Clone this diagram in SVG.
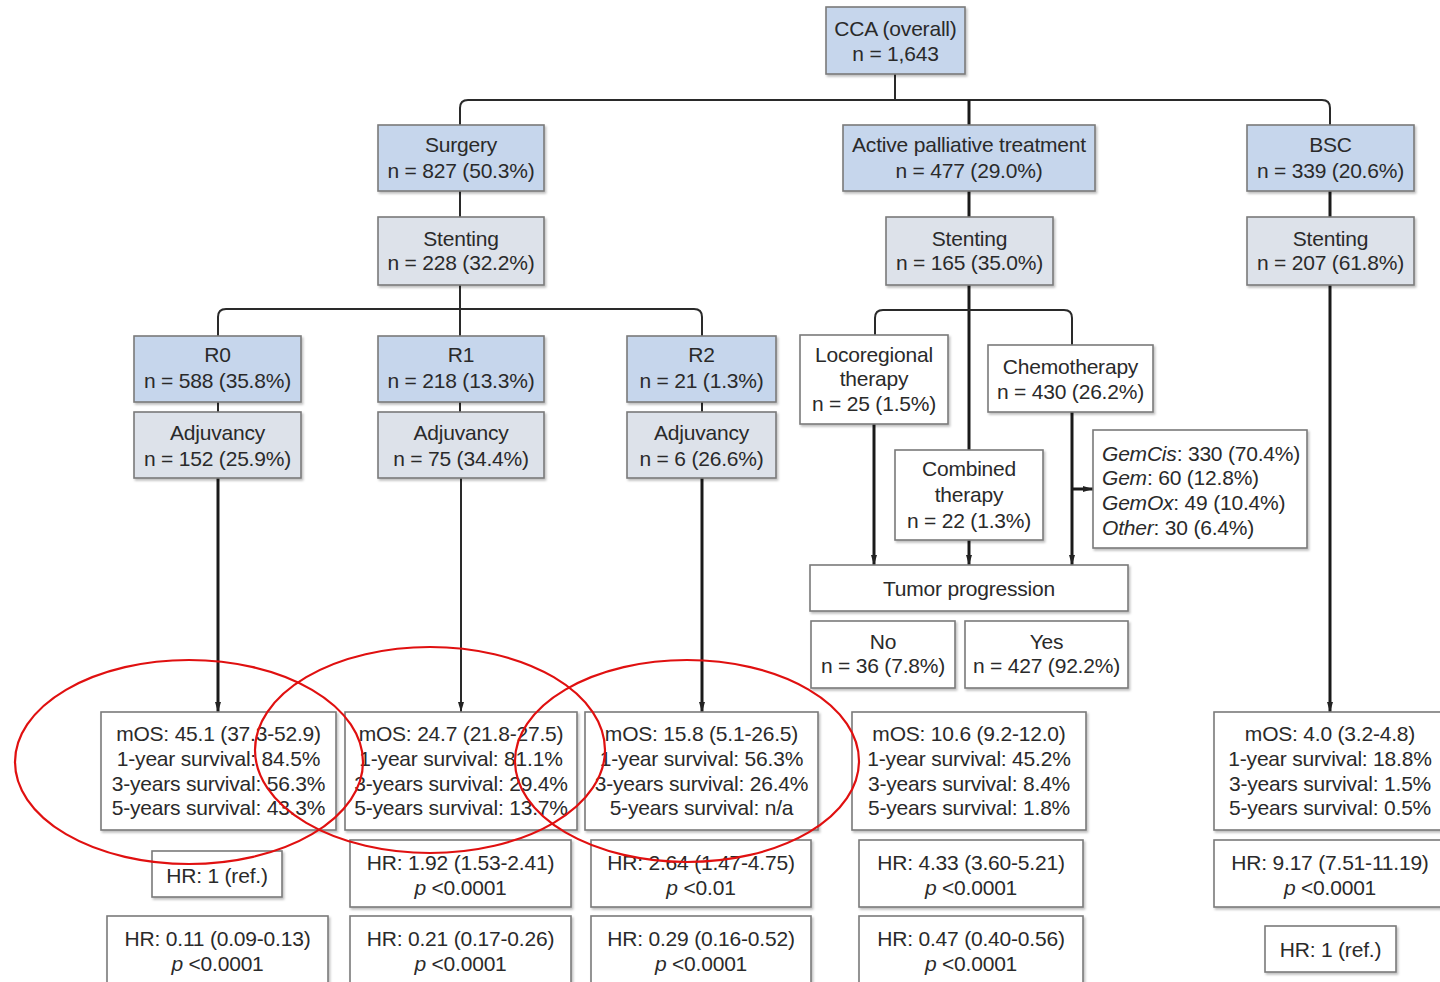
<svg xmlns="http://www.w3.org/2000/svg" width="1440" height="982" viewBox="0 0 1440 982">
<defs>
<marker id="arr" markerUnits="userSpaceOnUse" markerWidth="10" markerHeight="10" viewBox="0 0 10 10" refX="10" refY="5" orient="auto">
<path d="M0,2 L10,5 L0,8 Z" fill="#222"/>
</marker>
<filter id="sh" x="-5%" y="-5%" width="115%" height="125%">
<feDropShadow dx="1.5" dy="2" stdDeviation="1" flood-color="#000" flood-opacity="0.25"/>
</filter>
</defs>
<style>
rect{stroke:#7a7a7a;stroke-width:1.6;filter:url(#sh)}
.b{fill:#c6d6ec}
.g{fill:#dde2ea}
.w{fill:#fff}
text{font-family:"Liberation Sans",Arial,sans-serif;font-size:21px;letter-spacing:-0.2px;fill:#2a2a2a;text-anchor:middle}
.l{text-anchor:start}
.i{font-style:italic}
.c{fill:none;stroke:#2a2a2a;stroke-width:2}
.t{fill:none;stroke:#1a1a1a;stroke-width:3}
.red{fill:none;stroke:#e01010;stroke-width:2.2}
</style>
<rect x="0" y="0" width="1440" height="982" fill="#fff" style="stroke:none;filter:none"/>

<g id="connectors">
<path class="c" d="M895,74 V100"/>
<path class="c" d="M460,125 V108 Q460,100 468,100 H1322 Q1330,100 1330,108 V125"/>
<path class="t" d="M969,100 V125"/>
<path class="c" d="M460,191 V217"/>
<path class="t" d="M969,191 V217"/>
<path class="t" d="M1330,191 V217"/>
<path class="c" d="M460,285 V336"/>
<path class="c" d="M218,336 V317 Q218,309 226,309 H694 Q702,309 702,317 V336"/>
<path class="c" d="M218,402 V412"/>
<path class="c" d="M460,402 V412"/>
<path class="c" d="M702,402 V412"/>
<path class="t" d="M218,478 V712" marker-end="url(#arr)"/>
<path class="c" d="M461,478 V712" marker-end="url(#arr)"/>
<path class="t" d="M702,478 V712" marker-end="url(#arr)"/>
<path class="t" d="M969,285 V450"/>
<path class="c" d="M875,335 V318 Q875,310 883,310 H1064 Q1072,310 1072,318 V345"/>
<path class="t" d="M874,424 V565" marker-end="url(#arr)"/>
<path class="t" d="M969,540 V565" marker-end="url(#arr)"/>
<path class="t" d="M1072,412 V565" marker-end="url(#arr)"/>
<path class="t" d="M1072,489 H1093" marker-end="url(#arr)"/>
<path class="t" d="M1330,285 V712" marker-end="url(#arr)"/>
</g>

<g id="cca"><rect class="b" x="826" y="7" width="139" height="67"/><text x="895.5" y="36">CCA (overall)</text><text x="895.5" y="61">n = 1,643</text></g>

<g id="surgery"><rect class="b" x="378" y="125" width="166" height="66"/><text x="461" y="152">Surgery</text><text x="461" y="178">n = 827 (50.3%)</text></g>
<g id="apt"><rect class="b" x="843" y="125" width="252" height="66"/><text x="969" y="152">Active palliative treatment</text><text x="969" y="178">n = 477 (29.0%)</text></g>
<g id="bsc"><rect class="b" x="1247" y="125" width="167" height="66"/><text x="1330.5" y="152">BSC</text><text x="1330.5" y="178">n = 339 (20.6%)</text></g>

<g id="stent-surgery"><rect class="g" x="378" y="217" width="166" height="68"/><text x="461" y="246">Stenting</text><text x="461" y="270">n = 228 (32.2%)</text></g>
<g id="stent-apt"><rect class="g" x="886" y="217" width="167" height="68"/><text x="969.5" y="246">Stenting</text><text x="969.5" y="270">n = 165 (35.0%)</text></g>
<g id="stent-bsc"><rect class="g" x="1247" y="217" width="167" height="68"/><text x="1330.5" y="246">Stenting</text><text x="1330.5" y="270">n = 207 (61.8%)</text></g>

<g id="r0"><rect class="b" x="134" y="336" width="167" height="66"/><text x="217.5" y="362">R0</text><text x="217.5" y="388">n = 588 (35.8%)</text></g>
<g id="r1"><rect class="b" x="378" y="336" width="166" height="66"/><text x="461" y="362">R1</text><text x="461" y="388">n = 218 (13.3%)</text></g>
<g id="r2"><rect class="b" x="627" y="336" width="149" height="66"/><text x="701.5" y="362">R2</text><text x="701.5" y="388">n = 21 (1.3%)</text></g>

<g id="adj-r0"><rect class="g" x="134" y="412" width="167" height="66"/><text x="217.5" y="440">Adjuvancy</text><text x="217.5" y="466">n = 152 (25.9%)</text></g>
<g id="adj-r1"><rect class="g" x="378" y="412" width="166" height="66"/><text x="461" y="440">Adjuvancy</text><text x="461" y="466">n = 75 (34.4%)</text></g>
<g id="adj-r2"><rect class="g" x="627" y="412" width="149" height="66"/><text x="701.5" y="440">Adjuvancy</text><text x="701.5" y="466">n = 6 (26.6%)</text></g>

<g id="loco"><rect class="w" x="800" y="335" width="148" height="89"/><text x="874" y="362">Locoregional</text><text x="874" y="386">therapy</text><text x="874" y="411">n = 25 (1.5%)</text></g>
<g id="chemo"><rect class="w" x="988" y="345" width="165" height="67"/><text x="1070.5" y="374">Chemotherapy</text><text x="1070.5" y="399">n = 430 (26.2%)</text></g>
<g id="combined"><rect class="w" x="895" y="450" width="148" height="90"/><text x="969" y="476">Combined</text><text x="969" y="502">therapy</text><text x="969" y="528">n = 22 (1.3%)</text></g>
<g id="regimens"><rect class="w" x="1093" y="430" width="214" height="118"/>
<text class="l" x="1102" y="461"><tspan class="i">GemCis</tspan>: 330 (70.4%)</text>
<text class="l" x="1102" y="485"><tspan class="i">Gem</tspan>: 60 (12.8%)</text>
<text class="l" x="1102" y="510"><tspan class="i">GemOx</tspan>: 49 (10.4%)</text>
<text class="l" x="1102" y="535"><tspan class="i">Other</tspan>: 30 (6.4%)</text></g>

<g id="progression"><rect class="w" x="810" y="565" width="318" height="46"/><text x="969" y="596">Tumor progression</text></g>
<g id="prog-no"><rect class="w" x="811" y="621" width="144" height="67"/><text x="883" y="649">No</text><text x="883" y="673">n = 36 (7.8%)</text></g>
<g id="prog-yes"><rect class="w" x="965" y="621" width="163" height="67"/><text x="1046.5" y="649">Yes</text><text x="1046.5" y="673">n = 427 (92.2%)</text></g>

<g id="os-r0"><rect class="w" x="101" y="712" width="235" height="118"/><text x="218.5" y="741">mOS: 45.1 (37.3-52.9)</text><text x="218.5" y="766">1-year survival: 84.5%</text><text x="218.5" y="791">3-years survival: 56.3%</text><text x="218.5" y="815">5-years survival: 43.3%</text></g>
<g id="os-r1"><rect class="w" x="345" y="712" width="232" height="118"/><text x="461" y="741">mOS: 24.7 (21.8-27.5)</text><text x="461" y="766">1-year survival: 81.1%</text><text x="461" y="791">3-years survival: 29.4%</text><text x="461" y="815">5-years survival: 13.7%</text></g>
<g id="os-r2"><rect class="w" x="585" y="712" width="233" height="118"/><text x="701.5" y="741">mOS: 15.8 (5.1-26.5)</text><text x="701.5" y="766">1-year survival: 56.3%</text><text x="701.5" y="791">3-years survival: 26.4%</text><text x="701.5" y="815">5-years survival: n/a</text></g>
<g id="os-apt"><rect class="w" x="852" y="712" width="234" height="118"/><text x="969" y="741">mOS: 10.6 (9.2-12.0)</text><text x="969" y="766">1-year survival: 45.2%</text><text x="969" y="791">3-years survival: 8.4%</text><text x="969" y="815">5-years survival: 1.8%</text></g>
<g id="os-bsc"><rect class="w" x="1214" y="712" width="232" height="118"/><text x="1330" y="741">mOS: 4.0 (3.2-4.8)</text><text x="1330" y="766">1-year survival: 18.8%</text><text x="1330" y="791">3-years survival: 1.5%</text><text x="1330" y="815">5-years survival: 0.5%</text></g>

<g id="hr1-r0"><rect class="w" x="152" y="851" width="130" height="46"/><text x="217" y="883">HR: 1 (ref.)</text></g>
<g id="hr1-r1"><rect class="w" x="350" y="840" width="221" height="67"/><text x="460.5" y="870">HR: 1.92 (1.53-2.41)</text><text x="460.5" y="895"><tspan class="i">p</tspan> &lt;0.0001</text></g>
<g id="hr1-r2"><rect class="w" x="591" y="840" width="220" height="67"/><text x="701" y="870">HR: 2.64 (1.47-4.75)</text><text x="701" y="895"><tspan class="i">p</tspan> &lt;0.01</text></g>
<g id="hr1-apt"><rect class="w" x="859" y="840" width="224" height="67"/><text x="971" y="870">HR: 4.33 (3.60-5.21)</text><text x="971" y="895"><tspan class="i">p</tspan> &lt;0.0001</text></g>
<g id="hr1-bsc"><rect class="w" x="1214" y="840" width="232" height="67"/><text x="1330" y="870">HR: 9.17 (7.51-11.19)</text><text x="1330" y="895"><tspan class="i">p</tspan> &lt;0.0001</text></g>

<g id="hr2-r0"><rect class="w" x="107" y="916" width="221" height="80"/><text x="217.5" y="946">HR: 0.11 (0.09-0.13)</text><text x="217.5" y="971"><tspan class="i">p</tspan> &lt;0.0001</text></g>
<g id="hr2-r1"><rect class="w" x="350" y="916" width="221" height="80"/><text x="460.5" y="946">HR: 0.21 (0.17-0.26)</text><text x="460.5" y="971"><tspan class="i">p</tspan> &lt;0.0001</text></g>
<g id="hr2-r2"><rect class="w" x="591" y="916" width="220" height="80"/><text x="701" y="946">HR: 0.29 (0.16-0.52)</text><text x="701" y="971"><tspan class="i">p</tspan> &lt;0.0001</text></g>
<g id="hr2-apt"><rect class="w" x="859" y="916" width="224" height="80"/><text x="971" y="946">HR: 0.47 (0.40-0.56)</text><text x="971" y="971"><tspan class="i">p</tspan> &lt;0.0001</text></g>
<g id="hr2-bsc"><rect class="w" x="1265" y="926" width="131" height="46"/><text x="1330.5" y="957">HR: 1 (ref.)</text></g>

<g id="highlights">
<ellipse class="red" cx="189" cy="762" rx="174" ry="102"/>
<ellipse class="red" cx="430" cy="750" rx="175" ry="103"/>
<ellipse class="red" cx="687" cy="761" rx="172" ry="101"/>
</g>
</svg>
